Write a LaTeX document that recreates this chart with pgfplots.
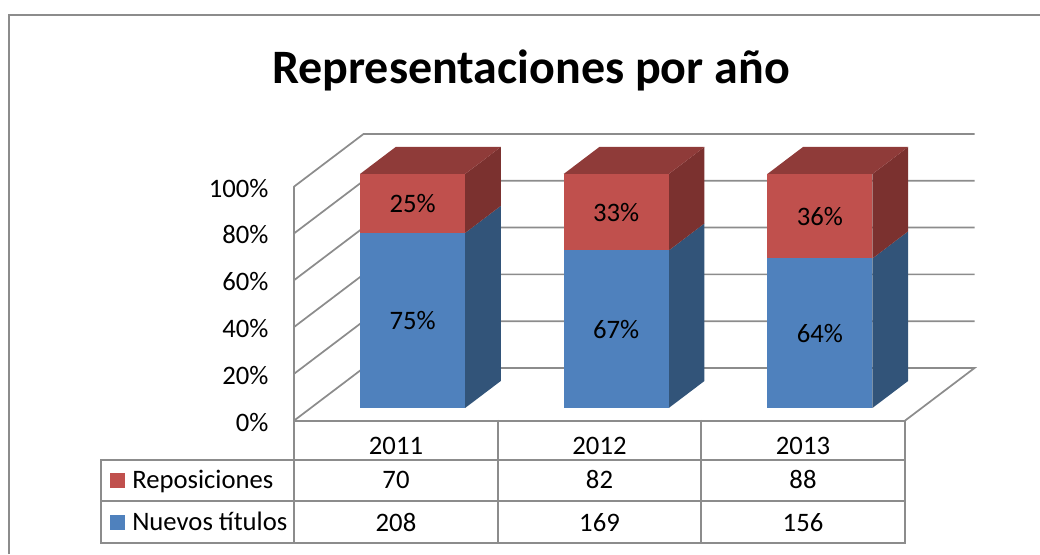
\documentclass[border=0pt]{standalone}
\usepackage{pgfplots}
\pgfplotsset{compat=1.18}
\usepackage{fontspec}
\setmainfont{Carlito}
\definecolor{redF}{HTML}{C0504D}
\definecolor{redT}{HTML}{8F3B39}
\definecolor{redS}{HTML}{7B312F}
\definecolor{bluF}{HTML}{4F81BD}
\definecolor{bluS}{HTML}{325479}
\definecolor{gridg}{HTML}{8C8C8C}
\newcommand{\lab}{\fontsize{20}{22}\selectfont}
\begin{document}
\begin{tikzpicture}[x=0.75pt,y=0.75pt]
\useasboundingbox (0,0) rectangle (1040,554);
\draw[gridg,line width=1.5pt] (8.5,0) -- (8.5,539) -- (1040,539);
\node[font=\fontsize{36}{42}\selectfont\bfseries,text=black] at (531,484) {Representaciones por año};
\begin{axis}[
  at={(294,134)},anchor=origin,xshift=-299.25pt,yshift=46.5pt,
  x={(152.75pt,0pt)},y={(52.5pt,39.75pt)},z={(0pt,1.755pt)},
  xmin=0,xmax=3,ymin=0,ymax=1,zmin=0,zmax=100,
  hide axis,clip=false,
]
% walls
\pgfplotsinvokeforeach{20,40,60,80,100}{
  \addplot3[gridg,line width=1.3pt,no marks] coordinates {(0,0,#1) (0,1,#1) (3,1,#1)};
}
\addplot3[gridg,line width=1.3pt,no marks] coordinates {(0,1,0) (3,1,0) (3,0,0)};
\addplot3[gridg,line width=1.3pt,no marks] coordinates {(0,1,0) (0,0,0)};
\addplot3[gridg,line width=1.5pt,no marks] coordinates {(0,0,100) (0,0,0) (3,0,0)};
% bars: lower segment then upper segment (x0, x1, share)
\pgfplotsinvokeforeach{0,1,2}{
  \pgfmathsetmacro{\xa}{#1+0.242}
  \pgfmathsetmacro{\xb}{#1+0.758}
  \pgfmathsetmacro{\s}{(#1==0)*74.82+(#1==1)*67.33+(#1==2)*63.93}
  \edef\tmp{\noexpand\addplot3[fill=bluS,draw=none,no marks] coordinates {(\xb,0.245,0) (\xb,0.755,0) (\xb,0.755,\s) (\xb,0.245,\s)};
  \noexpand\addplot3[fill=redS,draw=none,no marks] coordinates {(\xb,0.245,\s) (\xb,0.755,\s) (\xb,0.755,100) (\xb,0.245,100)};
  \noexpand\addplot3[fill=redT,draw=none,no marks] coordinates {(\xa,0.245,100) (\xb,0.245,100) (\xb,0.755,100) (\xa,0.755,100)};
  \noexpand\addplot3[fill=bluF,draw=none,no marks] coordinates {(\xa,0.245,0) (\xb,0.245,0) (\xb,0.245,\s) (\xa,0.245,\s)};
  \noexpand\addplot3[fill=redF,draw=none,no marks] coordinates {(\xa,0.245,\s) (\xb,0.245,\s) (\xb,0.245,100) (\xa,0.245,100)};}
  \tmp
}
% data labels
\node[font=\lab] at (axis cs:0.5,0.245,37.4) {75\%};
\node[font=\lab] at (axis cs:0.5,0.245,87.4) {25\%};
\node[font=\lab] at (axis cs:1.5,0.245,33.7) {67\%};
\node[font=\lab] at (axis cs:1.5,0.245,83.7) {33\%};
\node[font=\lab] at (axis cs:2.5,0.245,32.0) {64\%};
\node[font=\lab] at (axis cs:2.5,0.245,82.0) {36\%};
\pgfplotsinvokeforeach{0,20,40,60,80,100}{
  \node[font=\lab,anchor=east,yshift=-0.9pt] at (axis cs:-0.1,0,#1) {#1\%};
}
\end{axis}
% data table
\begin{scope}[gridg,line width=1.5pt]
\draw (294,134) -- (294,11.5);
\draw (497.7,134) -- (497.7,11.5);
\draw (701.3,134) -- (701.3,11.5);
\draw (905,134) -- (905,11.5) -- (101,11.5) -- (101,94) -- (905,94);
\draw (101,52.5) -- (905,52.5);
\end{scope}
\fill[redF] (110,66) rectangle (125,81);
\fill[bluF] (110,24) rectangle (125,39);
\node[font=\lab,anchor=base west,inner sep=0pt] at (132,65.5) {Reposiciones};
\node[font=\lab,anchor=base west,inner sep=0pt] at (132,23) {Nuevos títulos};
\foreach \x/\a/\b/\c in {396/2011/70/208,599.5/2012/82/169,803/2013/88/156}{
  \node[font=\lab,anchor=base] at (\x,99) {\a};
  \node[font=\lab,anchor=base] at (\x,65) {\b};
  \node[font=\lab,anchor=base] at (\x,22.5) {\c};
}
\end{tikzpicture}
\end{document}
